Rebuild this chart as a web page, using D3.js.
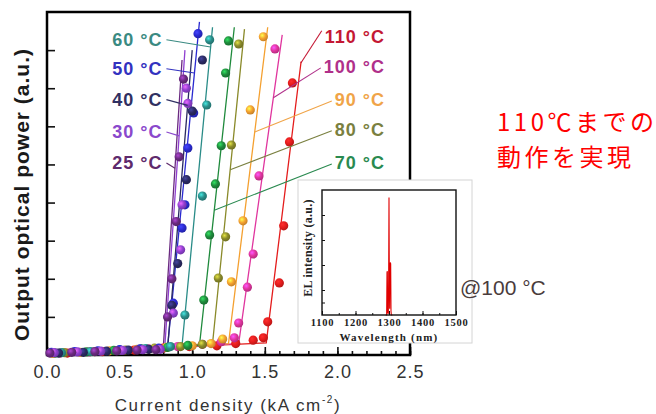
<!DOCTYPE html>
<html>
<head>
<meta charset="utf-8">
<script src="https://cdn.jsdelivr.net/npm/d3@7"></script>
<style>
  body { margin: 0; background: #fff; }
  svg { display: block; font-family: Arial, "Liberation Sans", sans-serif; }
</style>
</head>
<body>
<svg id="chart" width="656" height="414"></svg>
<script>
// ---- data ----
const temps = ["25", "30", "40", "50", "60", "70", "80", "90", "100", "110"];

// fit lines: start of the lasing line (threshold) and its top end
const thresholdJ = [0.80, 0.81, 0.83, 0.83, 0.93, 1.05, 1.14, 1.25, 1.32, 1.51];
const thresholdP = [0.15, 0.15, 0.15, 0.2, 0.25, 0.25, 0.3, 0.3, 0.3, 0.32];
const topJ = [0.93, 0.95, 1.0, 1.05, 1.14, 1.29, 1.36, 1.52, 1.62, 1.75];
const topP = [7.74, 8.0, 8.0, 8.74, 8.6, 8.6, 8.55, 8.6, 8.4, 7.7];
const startP = [0.05, 0.06, 0.05, 0.07, 0.06, 0.05, 0.06, 0.04, 0.05, 0.05];

// measured points below threshold [J, P]
const belowPts = [
  [[0.02, 0.05], [0.17, 0.07], [0.33, 0.09], [0.48, 0.11], [0.62, 0.13], [0.75, 0.14]],
  [[0.05, 0.06], [0.21, 0.08], [0.37, 0.1], [0.52, 0.12], [0.66, 0.14], [0.78, 0.15]],
  [[0.08, 0.05], [0.25, 0.07], [0.41, 0.1], [0.56, 0.13], [0.7, 0.15]],
  [[0.03, 0.07], [0.19, 0.09], [0.35, 0.11], [0.5, 0.14], [0.64, 0.16], [0.77, 0.18]],
  [[0.1, 0.06], [0.3, 0.09], [0.5, 0.13], [0.68, 0.17], [0.85, 0.22]],
  [[0.06, 0.05], [0.27, 0.08], [0.46, 0.12], [0.65, 0.16], [0.83, 0.2], [0.97, 0.25]],
  [[0.12, 0.06], [0.33, 0.09], [0.54, 0.13], [0.74, 0.18], [0.92, 0.22], [1.07, 0.28]],
  [[0.04, 0.04], [0.23, 0.07], [0.43, 0.11], [0.62, 0.15], [0.82, 0.2], [1.0, 0.24], [1.13, 0.3], [1.21, 0.42]],
  [[0.09, 0.05], [0.29, 0.08], [0.5, 0.12], [0.7, 0.16], [0.9, 0.22], [1.07, 0.28], [1.2, 0.35], [1.29, 0.45]],
  [[0.14, 0.05], [0.38, 0.09], [0.6, 0.13], [0.8, 0.18], [0.98, 0.22], [1.17, 0.24], [1.3, 0.3], [1.42, 0.39], [1.49, 0.45]]
];

// measured points above threshold [J, P]
const abovePts = [
  [[0.94, 7.24], [0.91, 5.2], [0.89, 3.5], [0.86, 2.0], [0.83, 1.0]],
  [[0.96, 7.0], [0.97, 6.6], [0.93, 3.94], [0.92, 2.76], [0.87, 1.1]],
  [[1.07, 7.74], [1.0, 6.4], [0.96, 4.6], [0.9, 2.4], [0.86, 1.3]],
  [[1.04, 8.43], [1.01, 6.35], [0.97, 5.43], [0.95, 3.94], [0.93, 3.33], [0.87, 1.36]],
  [[1.12, 8.27], [1.1, 6.56], [1.07, 4.17], [0.95, 1.05]],
  [[1.25, 8.24], [1.23, 7.4], [1.2, 5.49], [1.16, 4.49], [1.12, 3.15], [1.08, 1.44]],
  [[1.32, 8.16], [1.27, 5.51], [1.23, 3.1], [1.18, 2.02]],
  [[1.49, 8.35], [1.4, 6.43], [1.35, 3.52], [1.27, 1.92]],
  [[1.57, 8.03], [1.46, 4.7], [1.42, 2.65], [1.38, 1.78], [1.32, 0.84]],
  [[1.69, 7.14], [1.67, 5.59], [1.63, 3.39], [1.6, 1.89], [1.52, 0.87]]
];

// label positions (P of label centre) and where the leader meets the fit line
const labelP = [5.04, 5.85, 6.7, 7.51, 8.27, 5.04, 5.91, 6.69, 7.56, 8.35];
const leaderP = [4.9, 5.75, 6.55, 7.4, 8.08, 3.8, 4.86, 5.85, 6.75, 7.66];

const xTicks = [0, 0.5, 1.0, 1.5, 2.0, 2.5];
const yTicks = [1, 2, 3, 4, 5, 6, 7, 8];

// inset spectrum @100 °C
const specWavelength = [1290, 1293, 1294, 1295, 1296, 1298, 1299, 1300, 1301, 1302, 1303, 1304, 1305, 1306, 1307, 1310];
const specIntensity = [0, 0, 0.34, 0.35, 0.02, 0.01, 0.3, 0.94, 0.25, 0.05, 0.4, 0.42, 0.41, 0.03, 0, 0];
const insetTicks = [1100, 1200, 1300, 1400, 1500];

const colors = ["#6a2a80", "#9040d0", "#2a2a62", "#2a2ad0", "#2a8c88",
  "#1f8a3c", "#8a8a2a", "#f4a030", "#e0359e", "#e41c1c"];
const labelColors = ["#5e2a6c", "#8a48cc", "#303062", "#3232c0", "#3a8a82",
  "#2a8a50", "#7a8040", "#f0a448", "#b0308a", "#c41834"];

// ---- drawing ----
const svg = d3.select("#chart");
const x = d3.scaleLinear().domain([0, 2.5]).range([47, 410]);
const y = d3.scaleLinear().domain([0, 9]).range([355, 12]);

const defs = svg.append("defs");
colors.forEach((c, i) => {
  const g = defs.append("radialGradient").attr("id", `dot${i}`)
    .attr("cx", "38%").attr("cy", "35%").attr("r", "65%");
  g.append("stop").attr("offset", "0%").attr("stop-color", d3.color(c).brighter(1.4));
  g.append("stop").attr("offset", "55%").attr("stop-color", c);
  g.append("stop").attr("offset", "100%").attr("stop-color", d3.color(c).darker(0.6));
});

// axes (ticks point inward)
svg.append("g")
  .attr("transform", "translate(0,355)")
  .call(d3.axisBottom(x).tickValues(d3.range(0, 2.501, 0.1)).tickSize(-4).tickFormat(""))
  .call(g => g.select(".domain").remove());
svg.append("g")
  .attr("transform", "translate(0,355)")
  .call(d3.axisBottom(x).tickValues(xTicks).tickSize(-8).tickPadding(10).tickFormat(d3.format(".1f")))
  .call(g => g.select(".domain").remove())
  .call(g => g.selectAll("text").attr("font-size", 18).attr("fill", "#333")
    .attr("letter-spacing", 1).attr("font-family", "Arial, 'Liberation Sans', sans-serif"));
svg.selectAll(".tick line").attr("stroke", "#111").attr("stroke-width", 1.6);

svg.append("g")
  .attr("transform", "translate(47,0)")
  .call(d3.axisLeft(y).tickValues(yTicks).tickSize(-8).tickFormat(""))
  .call(g => g.select(".domain").remove())
  .call(g => g.selectAll("line").attr("stroke", "#111").attr("stroke-width", 1.6));

// frame
svg.append("rect").attr("x", 47).attr("y", 12).attr("width", 363).attr("height", 343)
  .attr("fill", "none").attr("stroke", "#000").attr("stroke-width", 2.5);

// fit lines
const line = d3.line().x(d => x(d[0])).y(d => y(d[1]));
const plot = svg.append("g");
const order = d3.range(temps.length).reverse();
order.forEach(i => {
  plot.append("path")
    .attr("d", line([[0, startP[i]], [thresholdJ[i], thresholdP[i]], [topJ[i], topP[i]]]))
    .attr("fill", "none").attr("stroke", colors[i]).attr("stroke-width", 1.3);
});
order.forEach(i => {
  plot.selectAll(null).data(belowPts[i].concat(abovePts[i])).join("circle")
    .attr("cx", d => x(d[0])).attr("cy", d => y(d[1])).attr("r", 4.6)
    .attr("fill", `url(#dot${i})`);
});

// point on a fit line at a given P
function jAt(i, p) {
  const t = (p - thresholdP[i]) / (topP[i] - thresholdP[i]);
  return thresholdJ[i] + t * (topJ[i] - thresholdJ[i]);
}

// temperature labels with leaders
const labels = svg.append("g").attr("font-size", 18).attr("font-weight", "bold")
  .attr("letter-spacing", 1);
temps.forEach((t, i) => {
  const left = i < 5;
  const cy = y(labelP[i]);
  const tx = left ? x(0.795) : x(2.328);
  const txt = labels.append("text")
    .attr("x", tx).attr("y", cy).attr("dy", "0.35em")
    .attr("text-anchor", "end").attr("fill", labelColors[i])
    .text(`${t} °C`);
  const w = txt.node().getComputedTextLength();
  const sx = left ? tx + 4 : tx - w - 3;
  const sy = left ? cy : (i === 9 ? cy - 6 : cy + 1);
  labels.append("line")
    .attr("x1", sx).attr("y1", sy)
    .attr("x2", x(jAt(i, leaderP[i]))).attr("y2", y(leaderP[i]))
    .attr("stroke", labelColors[i]).attr("stroke-width", 1.1);
});

// axis titles
svg.append("text")
  .attr("transform", `translate(29,${(47 + 342) / 2}) rotate(-90)`)
  .attr("text-anchor", "middle").attr("font-size", 21).attr("font-weight", "bold")
  .attr("letter-spacing", 1).attr("fill", "#1a1a1a")
  .text("Output optical power (a.u.)");

const xt = svg.append("text")
  .attr("x", 228).attr("y", 411).attr("text-anchor", "middle")
  .attr("font-size", 17).attr("letter-spacing", 1.6).attr("fill", "#333");
xt.append("tspan").text("Current density (kA cm");
xt.append("tspan").attr("font-size", 10).attr("dy", -8).text("-2");
xt.append("tspan").attr("dy", 8).text(")");

// inset
const inset = svg.append("g");
inset.append("rect").attr("x", 298).attr("y", 180).attr("width", 174).attr("height", 163)
  .attr("fill", "#fff").attr("stroke", "#d4d4d4").attr("stroke-width", 1);
const xi = d3.scaleLinear().domain([1100, 1500]).range([322, 456]);
const yi = d3.scaleLinear().domain([0, 1]).range([315, 190]);

inset.append("g").attr("transform", "translate(0,315)")
  .call(d3.axisBottom(xi).tickValues(d3.range(1100, 1501, 50)).tickSize(-2).tickFormat(""))
  .call(g => g.select(".domain").remove());
inset.append("g").attr("transform", "translate(0,315)")
  .call(d3.axisBottom(xi).tickValues(insetTicks).tickSize(-4).tickPadding(4).tickFormat(d3.format("d")))
  .call(g => g.select(".domain").remove())
  .call(g => g.selectAll("text").attr("font-size", 10.5).attr("font-weight", "bold")
    .attr("letter-spacing", 0.8).attr("font-family", "'Liberation Serif', 'Times New Roman', serif")
    .attr("fill", "#222"));
inset.append("g").attr("transform", "translate(322,0)")
  .call(d3.axisLeft(yi).tickValues([0.1, 0.2, 0.4, 0.6, 0.8]).tickSize(-3).tickFormat(""))
  .call(g => g.select(".domain").remove());
inset.selectAll(".tick line").attr("stroke", "#111");

inset.append("path")
  .attr("d", d3.line().x(d => xi(d[0])).y(d => yi(d[1]))(specWavelength.map((w, k) => [w, specIntensity[k]])))
  .attr("fill", "none").attr("stroke", "#e00000").attr("stroke-width", 1.1);

inset.append("rect").attr("x", 322).attr("y", 190).attr("width", 134).attr("height", 125)
  .attr("fill", "none").attr("stroke", "#111").attr("stroke-width", 1.4);

inset.append("text")
  .attr("x", 389).attr("y", 341).attr("text-anchor", "middle")
  .attr("font-family", "'Liberation Serif', 'Times New Roman', serif")
  .attr("font-size", 11).attr("font-weight", "bold").attr("letter-spacing", 1.2).attr("fill", "#222")
  .text("Wavelength (nm)");
inset.append("text")
  .attr("transform", "translate(312,248) rotate(-90)").attr("text-anchor", "middle")
  .attr("font-family", "'Liberation Serif', 'Times New Roman', serif")
  .attr("font-size", 12).attr("font-weight", "bold").attr("letter-spacing", 0.3).attr("fill", "#222")
  .text("EL intensity (a.u.)");

svg.append("text")
  .attr("x", 460).attr("y", 295).attr("font-size", 21).attr("fill", "#4a3c3c")
  .text("@100 °C");

// Japanese note
const note = svg.append("g")
  .attr("font-family", "'Noto Sans CJK JP', 'Noto Sans CJK SC', sans-serif")
  .attr("font-size", 24).attr("letter-spacing", 3.5).attr("fill", "#ff0000");
note.append("text").attr("x", 497).attr("y", 131).text("110℃までの");
note.append("text").attr("x", 497).attr("y", 166).text("動作を実現");
</script>
</body>
</html>
